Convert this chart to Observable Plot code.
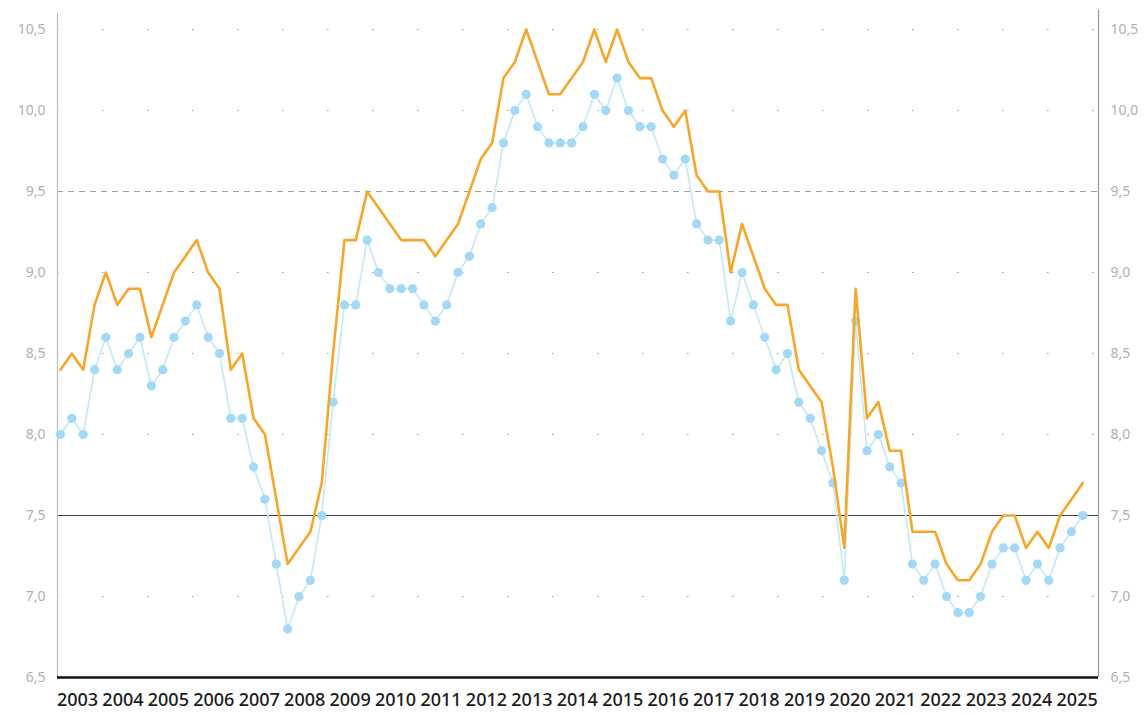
<!DOCTYPE html>
<html>
<head>
<meta charset="utf-8">
<script src="https://cdn.jsdelivr.net/npm/d3@7"></script>
<script src="https://cdn.jsdelivr.net/npm/@observablehq/plot@0.6"></script>
<style>
  html, body { margin: 0; padding: 0; background: #fff; }
  #chart { width: 1144px; height: 714px; }
</style>
</head>
<body>
<div id="chart"></div>
<script>
// Categories
const years = [2003,2004,2005,2006,2007,2008,2009,2010,2011,2012,2013,2014,2015,2016,2017,2018,2019,2020,2021,2022,2023,2024,2025];
const quarters = ["Q1","Q2","Q3","Q4"];

// Series values (quarterly, 2003Q1 .. 2025Q3)
const orangeSeries = [
  8.4, 8.5, 8.4, 8.8,   9.0, 8.8, 8.9, 8.9,   8.6, 8.8, 9.0, 9.1,   9.2, 9.0, 8.9, 8.4,
  8.5, 8.1, 8.0, 7.6,   7.2, 7.3, 7.4, 7.7,   8.5, 9.2, 9.2, 9.5,   9.4, 9.3, 9.2, 9.2,
  9.2, 9.1, 9.2, 9.3,   9.5, 9.7, 9.8, 10.2,  10.3, 10.5, 10.3, 10.1, 10.1, 10.2, 10.3, 10.5,
  10.3, 10.5, 10.3, 10.2, 10.2, 10.0, 9.9, 10.0, 9.6, 9.5, 9.5, 9.0,  9.3, 9.1, 8.9, 8.8,
  8.8, 8.4, 8.3, 8.2,   7.8, 7.3, 8.9, 8.1,   8.2, 7.9, 7.9, 7.4,   7.4, 7.4, 7.2, 7.1,
  7.1, 7.2, 7.4, 7.5,   7.5, 7.3, 7.4, 7.3,   7.5, 7.6, 7.7
];
const blueSeries = [
  8.0, 8.1, 8.0, 8.4,   8.6, 8.4, 8.5, 8.6,   8.3, 8.4, 8.6, 8.7,   8.8, 8.6, 8.5, 8.1,
  8.1, 7.8, 7.6, 7.2,   6.8, 7.0, 7.1, 7.5,   8.2, 8.8, 8.8, 9.2,   9.0, 8.9, 8.9, 8.9,
  8.8, 8.7, 8.8, 9.0,   9.1, 9.3, 9.4, 9.8,   10.0, 10.1, 9.9, 9.8,  9.8, 9.8, 9.9, 10.1,
  10.0, 10.2, 10.0, 9.9, 9.9, 9.7, 9.6, 9.7,  9.3, 9.2, 9.2, 8.7,   9.0, 8.8, 8.6, 8.4,
  8.5, 8.2, 8.1, 7.9,   7.7, 7.1, 8.7, 7.9,   8.0, 7.8, 7.7, 7.2,   7.1, 7.2, 7.0, 6.9,
  6.9, 7.0, 7.2, 7.3,   7.3, 7.1, 7.2, 7.1,   7.3, 7.4, 7.5
];

// Tick values
const yTicks = [6.5, 7.0, 7.5, 8.0, 8.5, 9.0, 9.5, 10.0, 10.5];
const dottedGrid = [7.0, 8.0, 8.5, 9.0, 10.0, 10.5];
const dashedGrid = [9.5];
const solidGrid = [7.5];

// Build table
const rows = [];
for (let i = 0; i < orangeSeries.length; i++) {
  const year = years[Math.floor(i / 4)];
  const qi = i % 4;
  rows.push({
    period: year + quarters[qi],
    t: year + (qi + 0.5) / 4,
    orange: orangeSeries[i],
    blue: blueSeries[i]
  });
}
const yearCenters = years.map(y => y + 0.5);
const fmt = d => d.toFixed(1).replace(".", ",");

const xDomain = [2003.06, 2025.97];

const chart = Plot.plot({
  width: 1144,
  height: 714,
  marginLeft: 57,
  marginRight: 46,
  marginTop: 29,
  marginBottom: 37,
  style: { fontFamily: "'Noto Sans', sans-serif", background: "#fff" },
  x: { type: "linear", domain: xDomain },
  y: { domain: [6.5, 10.5] },
  marks: [
    Plot.ruleY(dottedGrid, { stroke: "#8a8a8a", strokeWidth: 1, strokeDasharray: "1.5,43.5", strokeOpacity: 0.8 }),
    Plot.ruleY(dashedGrid, { stroke: "#777", strokeWidth: 1, strokeDasharray: "6,5", strokeOpacity: 0.7 }),
    Plot.ruleY(solidGrid, { stroke: "#444", strokeWidth: 1 }),
    Plot.ruleX([xDomain[0]], { y1: 6.5, y2: 10.6, stroke: "#bbb", strokeWidth: 1.2 }),
    Plot.ruleX([xDomain[1]], { y1: 6.5, y2: 10.62, stroke: "#999", strokeWidth: 1.2 }),
    Plot.ruleY([6.5], { stroke: "#111", strokeWidth: 2.5 }),
    Plot.line(rows, { x: "t", y: "blue", stroke: "#c3e9f4", strokeWidth: 1.6 }),
    Plot.dot(rows, { x: "t", y: "blue", r: 4.6, fill: "#a3d9f5", stroke: "none" }),
    Plot.line(rows, { x: "t", y: "orange", stroke: "#f6a62a", strokeWidth: 2.6 }),
    Plot.axisY(yTicks, { anchor: "left", tickSize: 0, tickPadding: 12, tickFormat: fmt, fontSize: 14, fill: "#b0b0b0", label: null }),
    Plot.axisY(yTicks, { anchor: "right", tickSize: 0, tickPadding: 12, tickFormat: fmt, fontSize: 14, fill: "#b0b0b0", label: null }),
    Plot.axisX(yearCenters, { anchor: "bottom", tickSize: 0, tickPadding: 16, tickFormat: d => String(Math.floor(d)), fontSize: 18, fontWeight: 500, fill: "#1a1a1a", label: null })
  ]
});
document.getElementById("chart").appendChild(chart);
</script>
</body>
</html>
